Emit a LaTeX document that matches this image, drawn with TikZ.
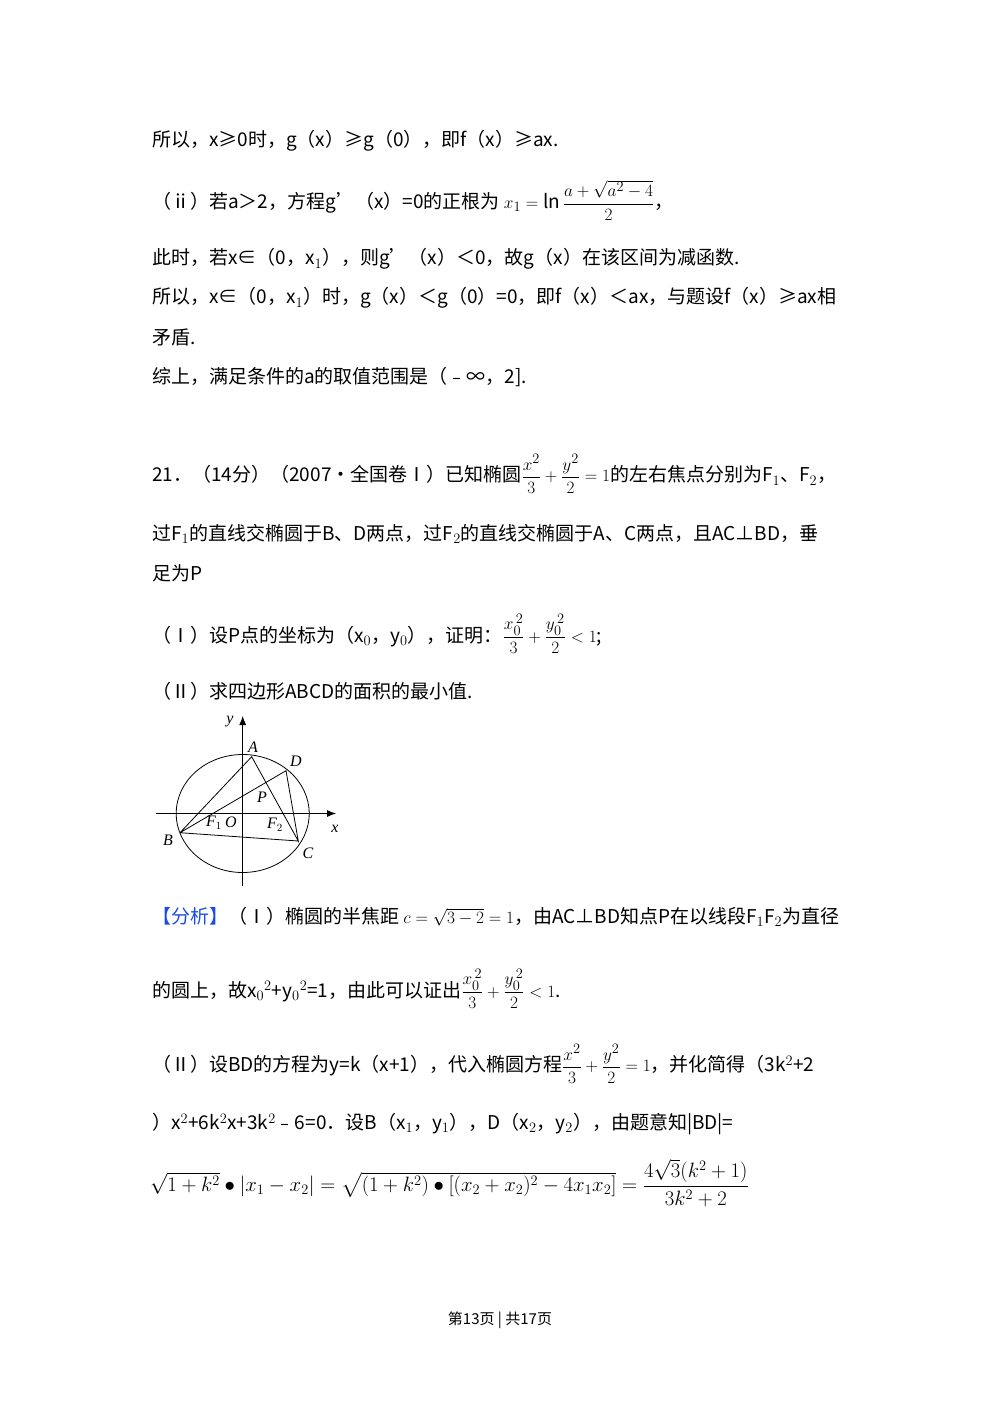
\documentclass[tikz,border=0pt]{standalone}
\usepackage{fontspec}
\usepackage{amsmath}
\usetikzlibrary{arrows.meta}
\setmainfont{Noto Sans CJK SC}
\newfontfamily\lat{Liberation Serif}
\tikzset{ln/.style={anchor=west,inner sep=0pt,font=\fontsize{19}{23}\selectfont},
 lab/.style={inner sep=0pt,font=\fontsize{16}{18}\selectfont\itshape\lat},
 thinl/.style={line width=0.8pt}}
\begin{document}
\begin{tikzpicture}[x=1pt,y=-1pt]
\useasboundingbox (0,0) rectangle (1000,1414);
\node[ln] (l1) at (152,141) {所以，x≥0时，g（x）≥g（0），即f（x）≥ax.};
\node[ln] (l2) at (152,200) {（ⅱ）若a＞2，方程g'（x）=0的正根为 $x_1=\ln\dfrac{a+\sqrt{a^2-4}}{2}$，};
\node[ln] (l3) at (152,259) {此时，若x∈（0，x$_1$），则g'（x）＜0，故g（x）在该区间为减函数.};
\node[ln] (l4) at (152,298) {所以，x∈（0，x$_1$）时，g（x）＜g（0）=0，即f（x）＜ax，与题设f（x）≥ax相};
\node[ln] (l5) at (152,337) {矛盾.};
\node[ln] (l6) at (152,377) {综上，满足条件的a的取值范围是（﹣∞，2].};
\node[ln] (l7) at (152,474) {21．（14分）（2007•全国卷Ⅰ）已知椭圆$\dfrac{x^2}{3}+\dfrac{y^2}{2}=1$的左右焦点分别为F$_1$、F$_2$，};
\node[ln] (l8) at (152,534) {过F$_1$的直线交椭圆于B、D两点，过F$_2$的直线交椭圆于A、C两点，且AC⊥BD，垂};
\node[ln] (l9) at (152,573) {足为P};
\node[ln] (l10) at (152,634) {（Ⅰ）设P点的坐标为（x$_0$，y$_0$），证明：$\dfrac{x_0^{\,2}}{3}+\dfrac{y_0^{\,2}}{2}<1$;};
\node[ln] (l11) at (152,691) {（Ⅱ）求四边形ABCD的面积的最小值.};
\node[ln] (l12) at (152,917) {\textcolor[rgb]{0.1,0.3,0.9}{【分析】}（Ⅰ）椭圆的半焦距 $c=\sqrt{3-2}=1$，由AC⊥BD知点P在以线段F$_1$F$_2$为直径};
\node[ln] (l13) at (152,989) {的圆上，故x$_0$$^2$+y$_0$$^2$=1，由此可以证出$\dfrac{x_0^{\,2}}{3}+\dfrac{y_0^{\,2}}{2}<1$.};
\node[ln] (l14) at (152,1064) {（Ⅱ）设BD的方程为y=k（x+1），代入椭圆方程$\dfrac{x^2}{3}+\dfrac{y^2}{2}=1$，并化简得（3k$^2$+2};
\node[ln] (l15) at (152,1124) {）x$^2$+6k$^2$x+3k$^2$﹣6=0．设B（x$_1$，y$_1$），D（x$_2$，y$_2$），由题意知|BD|=};
\node[ln,font=\fontsize{21}{25}\selectfont] (l16) at (150,1183) {$\sqrt{1+k^2}\bullet|x_1-x_2|=\sqrt{(1+k^2)\bullet[(x_2+x_2)^2-4x_1x_2]}=\dfrac{4\sqrt{3}(k^2+1)}{3k^2+2}$};
\node[inner sep=0pt,font=\fontsize{15}{18}\selectfont] (foot) at (500,1320) {第13页 | 共17页};
% figure
\coordinate (O) at (242.7,813.5);
\draw[thinl] (O) ellipse [x radius=66.5, y radius=59];
\draw[thinl,-{Latex[length=9pt,width=7pt]}] (156,813.5) -- (336,813.5);
\draw[thinl,-{Latex[length=9pt,width=7pt]}] (242.7,886) -- (242.7,716);
\coordinate (A) at (251.7,756.7);
\coordinate (D) at (286,770.7);
\coordinate (B) at (180,832.7);
\coordinate (C) at (298.3,841);
\draw[thinl] (B) -- (A) -- (C) -- (D) -- (B) (B) -- (C);
\node[lab] (ly) at (230,722) {y};
\node[lab] (lA) at (253,747) {A};
\node[lab] (lD) at (296,761) {D};
\node[lab] (lP) at (262,797) {P};
\node[lab] (lF1) at (214,823) {F$_1$};
\node[lab] (lO) at (231,822) {O};
\node[lab] (lF2) at (275,825) {F$_2$};
\node[lab] (lx) at (335,829) {x};
\node[lab] (lB) at (168,840) {B};
\node[lab] (lC) at (308,853) {C};
\end{tikzpicture}
\end{document}
